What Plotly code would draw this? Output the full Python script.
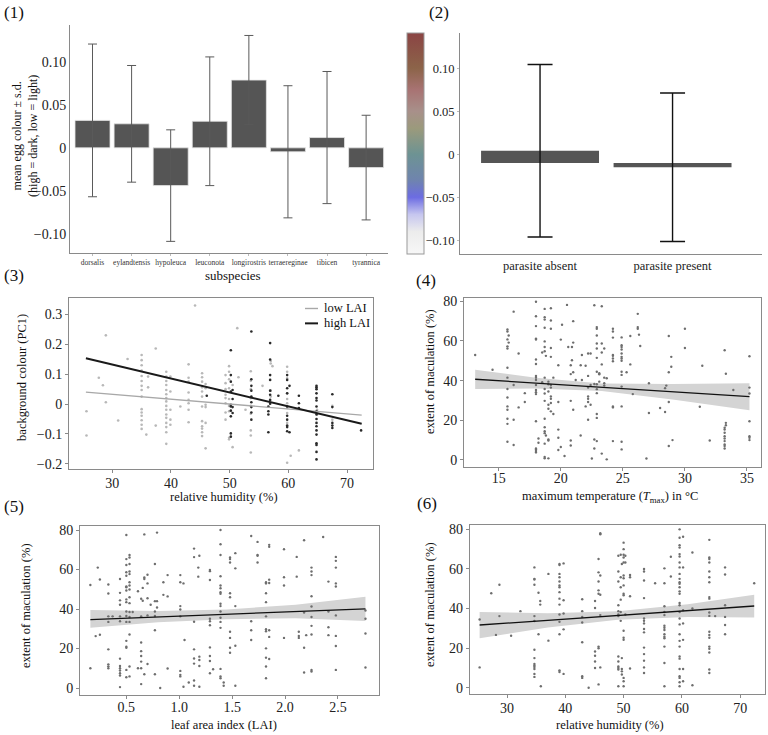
import plotly.graph_objects as go

# ---------------- data ----------------
# (1) egg colour by subspecies
subspecies = ["dorsalis", "eylandtensis", "hypoleuca", "leuconota", "longirostris",
              "terraereginae", "tibicen", "tyrannica"]
sub_mean = [0.032, 0.028, -0.044, 0.031, 0.079, -0.0046, 0.012, -0.023]
sub_sd = [0.089, 0.068, 0.065, 0.075, 0.052, 0.077, 0.077, 0.061]

# (2) egg colour by parasite status
parasite = ["parasite absent", "parasite present"]
par_mean = [0.0046, -0.0145]
par_sd = [0.100, 0.086]
par_base = -0.0095

# colour bar stops (value, colour)
cb_vals = [-0.116, -0.09, -0.07, -0.05, -0.03, 0.0, 0.03, 0.05, 0.075, 0.10, 0.141]
cb_cols = ["#f7f7f7", "#ececec", "#c6c6ef", "#6c6ce2", "#6f84ae", "#6d9393",
           "#9b9a7c", "#a8908a", "#a87373", "#8c6449", "#8b4444"]

# (3) background colour vs humidity, low / high LAI  (humidity, [PC1 values])
p3_low = [
    (25.6, [-0.024, -0.105]), (27.7, [0.088]), (28.4, [0.063]), (28.9, [0.23, 0.006]),
    (31.0, [-0.055]), (32.6, [0.151]),
    (35.0, [0.164, 0.147, 0.130, 0.112, 0.094, 0.077, 0.061, 0.047, 0.025, -0.017,
            -0.028, -0.039, -0.054, -0.069, -0.083]),
    (35.8, [-0.102]), (36.1, [0.092, 0.056]), (37.4, [0.186, -0.072]),
    (39.2, [0.108, 0.092, 0.077, 0.064, 0.047, 0.033, 0.020, 0.009, -0.006, -0.019,
            -0.035, -0.046, -0.063, -0.077, -0.094, -0.133]),
    (39.9, [0.092, 0.042, -0.019, -0.052, -0.069]), (41.6, [-0.008]),
    (43.0, [0.133, 0.088, 0.075, 0.039, 0.014, 0.003, -0.019, -0.061]),
    (44.1, [0.33]),
    (45.3, [0.103, 0.090, 0.075, 0.056, 0.042, 0.025, -0.008, -0.057, -0.074, -0.082,
            -0.094, -0.107]),
    (45.9, [0.067, 0.053, -0.002, -0.010, -0.063, -0.148]),
    (49.3, [0.097, 0.070, 0.050, 0.031, 0.020, 0.003, -0.028, -0.052]),
    (49.9, [0.127, 0.108, 0.083, 0.053, 0.017, -0.006, -0.024, -0.113, -0.118]),
    (50.5, [0.064, -0.144]), (51.3, [0.254]), (51.5, [0.090]), (52.7, [-0.019]),
    (53.6, [0.110, 0.078, 0.050, 0.020, -0.006, -0.032, -0.088, -0.105, -0.162]),
    (55.6, [0.061]), (57.0, [0.144, 0.136, 0.045, 0.025]), (57.3, [0.127]),
    (59.8, [0.125, 0.108, 0.086, 0.036, 0.017, 0.003, -0.013, -0.030, -0.063, -0.196]),
    (60.4, [-0.173]), (61.8, [-0.155]), (64.9, [-0.019, -0.035]), (67.5, [-0.006, -0.052]),
]
p3_high = [
    (46.1, [0.028]),
    (50.2, [0.180, 0.097, 0.075, 0.042, -0.002, -0.008, -0.022, -0.041, -0.098, -0.109]),
    (50.5, [0.047, 0.017, -0.010, -0.030]),
    (53.7, [0.243, 0.083, 0.061, 0.045, 0.025, 0.006, -0.010, -0.028, -0.052]),
    (56.6, [-0.008, -0.024, -0.035, -0.094]),
    (56.9, [0.204, 0.149, 0.097, 0.081, 0.045, 0.031, 0.014, 0.001]),
    (58.3, [0.028]),
    (59.8, [0.097, 0.081, 0.053, 0.036, -0.008, -0.039, -0.052, -0.072, -0.077, -0.091]),
    (60.2, [0.061, -0.094]), (61.8, [0.028, 0.003, -0.013]),
    (64.8, [0.061, 0.056, 0.050, 0.036, 0.020, 0.012, -0.008, -0.024, -0.035, -0.050,
            -0.063, -0.074, -0.088, -0.102, -0.131, -0.137, -0.160, -0.185]),
    (67.5, [0.033, -0.010, -0.063, -0.072, -0.080]), (72.4, [-0.088]),
]
p3_line_x = [25.5, 72.5]
p3_line_low = [0.040, -0.037]
p3_line_high = [0.153, -0.066]
p3_legend = ["low LAI", "high LAI"]

# (4) maculation vs Tmax
p4_pts = [
    (13.1, [52.9]), (14.5, [45.5]),
    (15.7, [65.8, 64.8, 60.8, 57.3, 56.2, 46.5, 41.5, 35.8, 31.5, 27, 25.3, 20.8, 18.2, 9.2]),
    (15.8, [62.8, 59.2]), (16.2, [74.8, 37.8, 20.3, 7.5]), (16.6, [53.7, 26.5]),
    (17.1, [33.7, 29.2]),
    (18.0, [79.8, 72.5, 67.5, 61.2, 60.7, 50.7, 48.4, 42.4, 41.5, 40.3, 37.8, 35.3, 34.2,
            33.2, 19.5, 5.8, 5.2, 4.5, 3.8]),
    (18.2, [10.8, 8.7]), (18.5, [54.2, 39.2]),
    (18.7, [76.2, 72, 70.8, 66.7, 59.8, 57, 54.8, 41.5, 35.8, 33.5, 29.8, 20.8, 16.5, 14.5,
            13.5, 8.2, 1.5, 0.8]),
    (18.8, [52.5, 12.3]), (19.0, [39.5, 38.2, 34.5, 27.8, 25.8, 10.3, 9.8, 0.8]),
    (19.2, [76.5, 70.3, 66.2, 56.5, 52, 37.8, 36.5, 32, 30.8, 28.7, 24.5]),
    (19.4, [41.5, 23.2]), (19.8, [47.8, 29.2, 15.3, 11.2, 5]), (20.0, [60.7, 6.5]),
    (20.1, [68.2]), (20.3, [2]), (20.5, [78.2]), (20.6, [57]),
    (20.8, [47.8, 43.3, 29.8, 9.8, 7.3]), (20.9, [57, 50.3]), (21.0, [70, 44.2, 25.3, 59.2]),
    (21.2, [40.3]), (21.6, [47.8, 12.3]), (21.7, [52.9, 40.3]), (22.0, [47.5, 27]),
    (22.2, [53.7, 42.4, 36.5, 32, 30.8, 29.2, 20.3]), (22.4, [53.7, 37.8, 27.8]),
    (22.5, [0.7]), (22.7, [78, 38.3, 10.3, 5.8]),
    (22.9, [67, 66.2, 62.8, 58.7, 56.2, 51.5, 44.5, 38.2, 35.7, 33.7, 23.2, 21.2, 9.5]),
    (23.1, [43.7, 43.2, 39.5]), (23.3, [77.5, 58.7, 54.2, 48.2, 3.2]),
    (23.5, [56.2, 41.5, 38.7, 37.5]), (23.7, [41.2, 0.3]),
    (24.2, [66.2, 64.8, 61.7, 52.9, 52.5, 51.2, 49.8, 27, 26.5, 9.5]),
    (24.9, [61.8, 57.9, 57, 55.7, 53.7, 52, 51.2, 50, 44.5, 42.9, 37, 27, 9.2, 5.3]),
    (25.3, [44.2]), (25.6, [62.5, 48.2]), (25.8, [33.2]), (26.2, [73.7, 67, 66.2]),
    (26.3, [63.2]), (26.4, [57.5]), (26.9, [0.7]), (27.1, [38.7, 23.7]), (28.0, [26.2]),
    (28.4, [36.2, 24.2]), (28.5, [37.5]), (28.7, [62.5, 44.2, 29.2, 7]), (28.9, [52, 47]),
    (29.0, [10]), (30.0, [66.2, 56.5]), (31.2, [26.8]), (31.4, [47.5]), (32.0, [9.8]),
    (33.2, [55.3, 16.2, 15.3, 13.7, 12, 10.8, 9.5, 7.8, 7, 5.8]),
    (33.3, [43.5, 18.7, 17.5]), (33.9, [35.3]),
    (35.2, [52.3, 36.5, 33.5, 19.5, 12, 11.2, 10]),
]
p4_fit_x = [13.1, 18.0, 23.3, 29.0, 35.2]
p4_fit = [40.7, 38.75, 36.6, 34.35, 31.9]
p4_lo = [35.8, 36.0, 34.8, 30.5, 25.0]
p4_hi = [45.5, 41.5, 38.5, 38.3, 38.7]

# (5) maculation vs LAI
p5_pts = [
    (0.16, [52.2, 10]), (0.21, [26.3]), (0.23, [61]), (0.25, [55, 27]),
    (0.33, [52.4, 47.9, 36.3, 33.5, 19.6, 12, 11, 10]), (0.37, [36.3]),
    (0.44, [55.2, 48.2, 44.4, 42.2, 36.3, 33.8, 14.9, 11.2, 10, 8.9, 7.5, 6.4, 0.5]),
    (0.50, [77.5, 65.3, 62.3, 58.6, 56.9, 51.5, 51, 49.4, 44.9, 43.5, 38.8, 36.5, 33.5,
            23.9, 20.9, 20.4, 9.2, 5.5]),
    (0.53, [67.4, 66.1, 62.8, 59, 57.7, 53.6, 51.9, 49.9, 46, 43, 38.5, 36, 33.5, 27.1,
            10.9, 5.9]),
    (0.56, [38.5]), (0.61, [49, 10]), (0.64, [45.2, 36.3, 23.1, 18.7, 16.2, 13.4, 10, 2]),
    (0.655, [50.7, 44.2]), (0.67, [77.8, 55.2, 56, 7]), (0.70, [57.4, 53, 45.5, 36.8, 12.2]),
    (0.73, [42.2]), (0.77, [62.8, 44, 38.8, 36.5, 29.3, 7]), (0.79, [78.7, 44, 40.8]),
    (0.82, [0]), (0.85, [53.6, 47.2]), (0.89, [46.4, 57.2, 9.9]),
    (1.01, [57.2, 53.6, 41.5, 39.8, 36.3, 8.7, 6.7, 5.9]), (1.04, [53, 0.7]), (1.05, [24.3]),
    (1.09, [2.8]), (1.14, [70.6, 66.3, 33.6, 19.6, 15, 12.4, 3.8, 1.2]), (1.18, [61, 56.4]),
    (1.19, [67, 15.9, 14.2, 11.2, 0.7]),
    (1.29, [59.2, 59.8, 54.7, 35.1, 33.8, 31.8, 20.6, 16.2, 13.7, 7.5]), (1.32, [9.5]),
    (1.39, [80, 72.8, 67.4, 56.6, 51.9, 50.5, 48.5, 47.7, 42.7, 41.5, 38.8, 35.6, 33.5,
            30.5, 9.7, 5.9, 5]),
    (1.42, [2.8, 1.2]), (1.48, [66.1, 65.3, 63.6, 48, 46, 28.5, 25.4, 20.4, 17.9]),
    (1.53, [68.3, 60.6, 41.5, 21.4, 1.2]), (1.68, [77, 33.8, 29.3, 24.3]),
    (1.74, [74, 67.4, 67, 63.6]),
    (1.82, [53.6, 53, 48, 43.5, 36.3, 29.8, 28.8, 20.1, 15.4, 10.9, 5]),
    (1.85, [72.5, 71.5, 54.9, 53.2, 29.3, 25.9, 14.7]), (1.99, [70.3, 56.1, 51.9, 25.4]),
    (2.11, [66.4, 56.4]), (2.13, [28.5, 26.4, 25.4]), (2.18, [74.8, 38.2, 20.4, 7.9]),
    (2.20, [26.8]), (2.25, [61, 59, 57.2, 46.5, 41.3, 36, 31.5, 27.1, 9.2, 8.4]),
    (2.36, [76.5]), (2.41, [53.9, 38.8, 30.8, 26.8]),
    (2.48, [66.4, 64.4, 61, 53, 51.4, 36.8, 26.4, 21.3, 9.2]),
    (2.76, [39.3, 35.1, 27.6, 10.4]),
]
p5_fit_x = [0.16, 0.8, 1.45, 2.1, 2.76]
p5_fit = [34.7, 36.0, 37.4, 38.7, 40.1]
p5_lo = [30.6, 33.3, 34.9, 35.3, 34.0]
p5_hi = [39.5, 39.0, 39.8, 42.2, 46.2]

# (6) maculation vs humidity
p6_pts = [
    (25.3, [34.5, 10.3]), (27.3, [47.7]), (28.1, [26.7]), (28.7, [52, 36.2]), (30.7, [26.3]),
    (32.3, [38.7]),
    (34.7, [60.8, 55, 54.7, 52, 36.2, 33.7, 19.2, 15, 12, 11.2, 10.5, 9.5, 7, 5.5]),
    (35.4, [48, 27]), (35.7, [43.8, 42]), (35.8, [0.8]), (37.1, [57.5, 23.8]),
    (39.0, [62.5, 62, 57.5, 55.8, 53.7, 51.7, 50.8, 48.3, 45, 42, 37, 33.3, 27, 8.8, 8]),
    (39.7, [62.8, 44.2, 37.5, 29.5, 7]), (42.9, [44.7, 38.7, 35.8, 33, 23, 5.8, 5]),
    (44.0, [0]), (45.1, [43.8, 40.3, 18.3, 16.2, 13.3, 10]),
    (45.7, [65, 58.3, 53.7, 49.2, 47.5, 20.8, 20, 1.7]), (46.0, [77.5, 78, 56.7, 47, 36.7, 10.3]),
    (49.1, [66.7, 58.7, 53.7, 41.7, 38.7, 37, 36.2, 15.8, 13.3, 10.8, 10, 9.2, 0.8]),
    (49.5, [67.2, 55.8, 50.8, 44.5, 38.3, 33.8]), (49.7, [62.5, 15, 9.5, 8.3, 6.7]),
    (50.0, [73.3, 70, 67.2, 65.8, 63.3, 56.7, 55.3, 51.7, 47.5, 46.7, 28.8, 25.3, 24.2, 5,
            3.3, 0.8]),
    (50.3, [66.7, 63.3, 37]), (51.1, [57, 55.8, 46.2, 9.7]),
    (53.5, [60, 58.7, 54.2, 45.3, 35, 33.8, 32.5, 29.7, 28, 20.3, 17, 13.7, 10.3, 7.5]),
    (55.4, [52.8]),
    (57.0, [60.3, 52.8, 41.2, 38.3, 36.7, 31.3, 30.3, 29.2, 27, 25.8, 25, 20.8, 12.5, 0.8]),
    (58.1, [66.2, 56.2]),
    (59.6, [80, 75.8, 72, 70.8, 67.5, 66.3, 63.3, 60.8, 57.5, 55, 53.3, 52.5, 50.8, 48.7,
            47.5, 42.8, 41.7, 38.3, 35, 32, 27, 23.7, 20.8, 15.8, 14.7, 9.5, 5.8, 5, 2.8, 0.8]),
    (60.2, [76.3, 60.8, 39.2, 32.5, 24.2, 9.5, 3.3]), (61.8, [68.3, 40, 1.3]),
    (64.7, [74.7, 65.8, 65, 63.3, 58.7, 55.8, 53.3, 45.8, 45, 38, 36.3, 28.3, 26.7, 25.3,
            20.8, 19.7, 17.8, 9.2, 7.5]),
    (65.7, [36.2]), (67.4, [60.8, 57.2, 41.7, 35.8, 31.7, 27]), (72.4, [52.8]),
]
p6_fit_x = [25.3, 37.0, 49.0, 61.0, 72.4]
p6_fit = [31.7, 34.1, 36.5, 39.0, 41.3]
p6_lo = [25.0, 30.5, 34.4, 35.8, 35.5]
p6_hi = [38.3, 37.7, 38.7, 42.2, 47.0]

# ---------------- helpers (layout only) ----------------
W, H = 768, 735
FONT = "Liberation Serif"
AX = "#8a8a8a"
LOW_COL, HIGH_COL = "#a8a8a8", "#1a1a1a"


def fx(p):
    return p / W


def fy(p):
    return 1 - p / H


def expand(cols):
    xs, ys = [], []
    for x, vals in cols:
        for v in vals:
            xs.append(x)
            ys.append(v)
    return xs, ys


fig = go.Figure()

# ---- panel 1 ----
fig.add_trace(go.Bar(
    x=subspecies, y=sub_mean, width=0.896, xaxis="x", yaxis="y",
    marker=dict(color="#555555", line=dict(color="#e6e6e6", width=0.8)),
    error_y=dict(type="data", array=sub_sd, color="#5a5a5a", thickness=1, width=4.5),
    showlegend=False))

# ---- panel 2 ----
fig.add_trace(go.Bar(
    x=parasite, y=[m - par_base for m in par_mean], base=par_base, width=0.89,
    xaxis="x2", yaxis="y2", marker=dict(color="#555555", line=dict(width=0)),
    showlegend=False))
fig.add_trace(go.Scatter(
    x=parasite, y=par_mean, mode="markers", marker=dict(size=1, color="rgba(0,0,0,0)"),
    error_y=dict(type="data", array=par_sd, color="#111111", thickness=1.4, width=12.5),
    xaxis="x2", yaxis="y2", showlegend=False, hoverinfo="skip"))

span = cb_vals[-1] - cb_vals[0]
cscale = [[(v - cb_vals[0]) / span, c] for v, c in zip(cb_vals, cb_cols)]
fig.add_trace(go.Scatter(
    x=[None], y=[None], mode="markers", xaxis="x2", yaxis="y2", showlegend=False,
    marker=dict(color=[0], colorscale=cscale, cmin=cb_vals[0], cmax=cb_vals[-1],
                showscale=True,
                colorbar=dict(x=fx(407), xanchor="left", y=fy(141.5), yanchor="middle",
                              len=223 / H, lenmode="fraction", thickness=17,
                              thicknessmode="pixels", outlinewidth=1, outlinecolor="#999",
                              showticklabels=False, ticks="", xpad=0, ypad=0))))

# ---- panel 3 ----
lx, ly = expand(p3_low)
hx, hy = expand(p3_high)
fig.add_trace(go.Scatter(x=lx, y=ly, mode="markers", xaxis="x3", yaxis="y3",
                         marker=dict(size=2.6, color="#b8b8b8"), showlegend=False))
fig.add_trace(go.Scatter(x=hx, y=hy, mode="markers", xaxis="x3", yaxis="y3",
                         marker=dict(size=2.6, color="#2a2a2a"), showlegend=False))
fig.add_trace(go.Scatter(x=p3_line_x, y=p3_line_low, mode="lines", xaxis="x3", yaxis="y3",
                         line=dict(color=LOW_COL, width=1.4), name=p3_legend[0],
                         showlegend=False))
fig.add_trace(go.Scatter(x=p3_line_x, y=p3_line_high, mode="lines", xaxis="x3", yaxis="y3",
                         line=dict(color=HIGH_COL, width=2), name=p3_legend[1],
                         showlegend=False))


def add_reg(pts, fxs, fit, lo, hi, ax):
    xs, ys = expand(pts)
    fig.add_trace(go.Scatter(x=fxs + fxs[::-1], y=hi + lo[::-1], fill="toself",
                             fillcolor="#d4d4d4", line=dict(width=0), mode="lines",
                             xaxis="x" + ax, yaxis="y" + ax, showlegend=False,
                             hoverinfo="skip"))
    fig.add_trace(go.Scatter(x=xs, y=ys, mode="markers", xaxis="x" + ax, yaxis="y" + ax,
                             marker=dict(size=2.4, color="#6e6e6e"), showlegend=False))
    fig.add_trace(go.Scatter(x=[fxs[0], fxs[-1]], y=[fit[0], fit[-1]], mode="lines",
                             xaxis="x" + ax, yaxis="y" + ax,
                             line=dict(color="#111111", width=1.3), showlegend=False))


add_reg(p4_pts, p4_fit_x, p4_fit, p4_lo, p4_hi, "4")
add_reg(p5_pts, p5_fit_x, p5_fit, p5_lo, p5_hi, "5")
add_reg(p6_pts, p6_fit_x, p6_fit, p6_lo, p6_hi, "6")

# ---------------- axes ----------------
tickfont = dict(family=FONT, size=14, color="#222")


def box_axes(xl, xr, yt, yb, xrng, yrng, xdt, ydt, n, xstand):
    common = dict(showline=True, mirror=True, linecolor=AX, linewidth=1, ticks="outside",
                  ticklen=3, tickcolor=AX, showgrid=False, zeroline=False, tickfont=tickfont)
    fig.layout["xaxis" + n] = dict(domain=[fx(xl), fx(xr)], range=xrng, dtick=xdt,
                                   anchor="y" + n, ticklabelstandoff=xstand, **common)
    fig.layout["yaxis" + n] = dict(domain=[fy(yb), fy(yt)], range=yrng, dtick=ydt,
                                   anchor="x" + n, **common)


fig.update_layout(
    xaxis=dict(domain=[fx(70), fx(388)], range=[-0.576, 7.56], type="category",
               showline=True, linecolor=AX, linewidth=1, ticks="outside", ticklen=2,
               tickcolor="#bbb", showgrid=False, zeroline=False,
               tickfont=dict(family=FONT, size=7.5, color="#333"), anchor="y"),
    yaxis=dict(domain=[fy(252), fy(22)], range=[-0.1225, 0.1434], showline=True,
               linecolor=AX, linewidth=1, ticks="", showgrid=False, zeroline=False,
               tickvals=[-0.10, -0.05, 0, 0.05, 0.10],
               ticktext=["−0.10", "−0.05", "0", "0.05", "0.10"],
               tickfont=dict(family=FONT, size=14, color="#222"), anchor="x"),
    xaxis2=dict(domain=[fx(460), fx(762)], range=[-0.604, 1.675], type="category",
                showline=True, linecolor=AX, linewidth=1, ticks="", showgrid=False,
                zeroline=False, tickfont=dict(family=FONT, size=12.5, color="#222"),
                anchor="y2"),
    yaxis2=dict(domain=[fy(253), fy(30)], range=[-0.115, 0.1414], showline=True,
                linecolor=AX, linewidth=1, ticks="outside", ticklen=2, tickcolor="#bbb",
                showgrid=False, zeroline=False,
                tickvals=[-0.10, -0.05, 0, 0.05, 0.10],
                ticktext=["−0.10", "−0.05", "0", "0.05", "0.10"],
                tickfont=dict(family=FONT, size=12.5, color="#222"), anchor="x2"),
)

box_axes(69, 373, 297, 470, [22.62, 74.43], [-0.2177, 0.3563], 10, 0.1, "3", -2)
box_axes(464, 761, 297, 468, [12.2, 36.13], [-3.66, 81.9], 5, 20, "4", -5)
box_axes(80, 378.7, 527, 698, [0.062, 2.885], [-3.66, 82.2], 0.5, 20, "5", -4)
box_axes(469.7, 765.3, 526, 697, [23.6, 74.3], [-3.3, 82.35], 10, 20, "6", -2)
fig.layout.xaxis5.tickformat = ".1f"

# ---------------- annotations ----------------
ann = []


def text(t, x, y, size=12.5, angle=0, xanchor="center"):
    ann.append(dict(text=t, x=fx(x), y=fy(y), xref="paper", yref="paper",
                    showarrow=False, textangle=angle, xanchor=xanchor, yanchor="middle",
                    font=dict(family=FONT, size=size, color="#111")))


for lab, x, y in [("(1)", 14, 10), ("(2)", 439, 10), ("(3)", 14, 275),
                  ("(4)", 426, 280), ("(5)", 14, 508), ("(6)", 427, 505)]:
    text(lab, x, y, size=17)

text("subspecies", 233, 275, 13)
text("mean egg colour ± s.d.<br>(high = dark, low = light)", 25, 134, 12, -90)
text("background colour (PC1)", 22, 378, 12.5, -90)
text("relative humidity (%)", 224, 498, 12.5)
text("extent of maculation (%)", 430, 372, 12.5, -90)
text("maximum temperature (<i>T</i><sub>max</sub>) in °C", 610, 498, 12.5)
text("extent of maculation (%)", 26, 608, 12.5, -90)
text("leaf area index (LAI)", 224, 728, 12.5)
text("extent of maculation (%)", 430, 607, 12.5, -90)
text("relative humidity (%)", 610, 728, 12.5)

# manual legend for panel (3)
shapes = []
for lab, col, wd, y in [(p3_legend[0], LOW_COL, 1.4, 308), (p3_legend[1], HIGH_COL, 2, 323)]:
    shapes.append(dict(type="line", xref="paper", yref="paper", x0=fx(305), x1=fx(318),
                       y0=fy(y), y1=fy(y), line=dict(color=col, width=wd)))
    text(lab, 322, y, 12.5, xanchor="left")

fig.update_layout(
    width=W, height=H, margin=dict(l=0, r=0, t=0, b=0),
    paper_bgcolor="white", plot_bgcolor="white",
    annotations=ann, shapes=shapes, showlegend=False,
    font=dict(family=FONT),
)

fig.write_html("out.html")
